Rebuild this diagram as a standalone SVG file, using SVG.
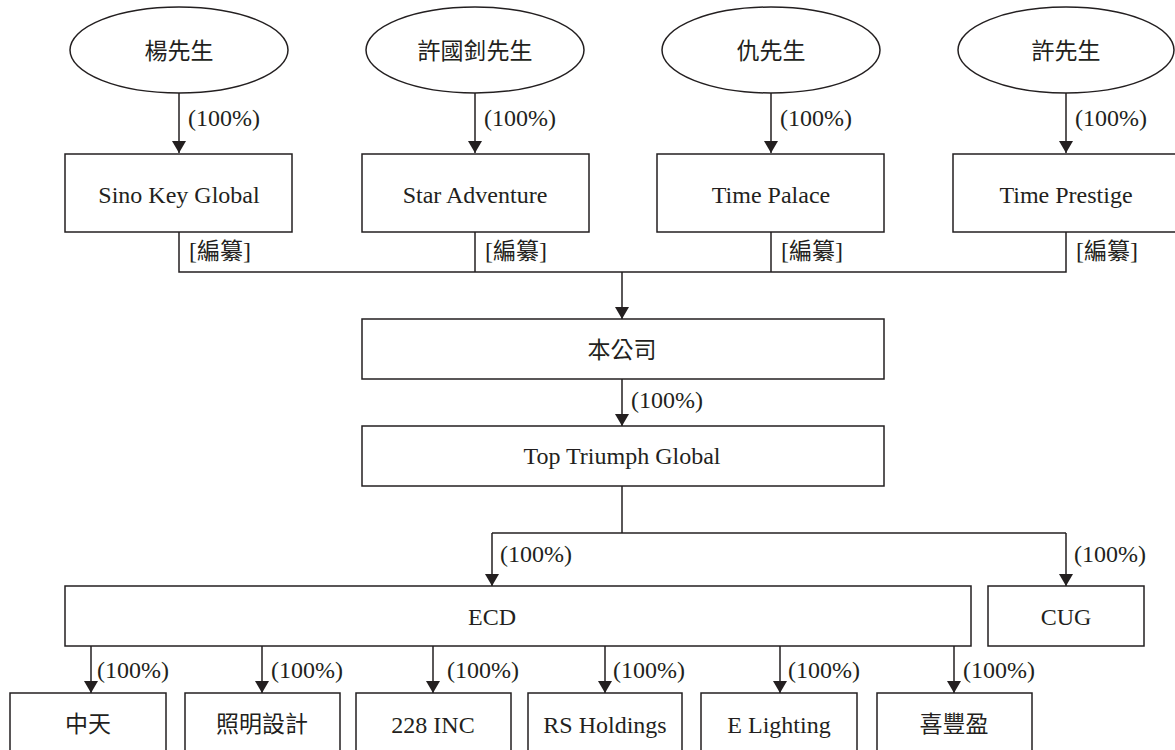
<svg xmlns="http://www.w3.org/2000/svg" width="1175" height="750" viewBox="0 0 1175 750">
<defs>
<style>
.bx{fill:#fff;stroke:#231f20;stroke-width:1.5}
.ln{fill:none;stroke:#231f20;stroke-width:1.5}
.t{font-family:"Liberation Serif","Noto Sans CJK TC",serif;font-size:24px;fill:#231f20}
.c{text-anchor:middle}
.cj{font-family:"Noto Sans CJK TC","Noto Sans CJK SC",sans-serif;font-size:23px;fill:#231f20;text-anchor:middle}
</style>
<marker id="ah" viewBox="0 0 12 14" markerWidth="12" markerHeight="14" markerUnits="userSpaceOnUse" refX="12" refY="7" orient="auto">
<path d="M0,0 L12,7 L0,14 Z" fill="#231f20"/>
</marker>
</defs>
<rect width="1175" height="750" fill="#fff"/>
<g id="connectors">
<line class="ln" x1="179" y1="93" x2="179" y2="153" marker-end="url(#ah)"/>
<line class="ln" x1="475" y1="93" x2="475" y2="153" marker-end="url(#ah)"/>
<line class="ln" x1="771" y1="93" x2="771" y2="153" marker-end="url(#ah)"/>
<line class="ln" x1="1066" y1="93" x2="1066" y2="153" marker-end="url(#ah)"/>
<polyline class="ln" points="179,232 179,272 1066,272 1066,232"/>
<line class="ln" x1="475" y1="232" x2="475" y2="272"/>
<line class="ln" x1="771" y1="232" x2="771" y2="272"/>
<line class="ln" x1="622" y1="272" x2="622" y2="319" marker-end="url(#ah)"/>
<line class="ln" x1="622" y1="379" x2="622" y2="426" marker-end="url(#ah)"/>
<polyline class="ln" points="622,486 622,533"/>
<line class="ln" x1="492" y1="533" x2="1066" y2="533"/>
<line class="ln" x1="492" y1="533" x2="492" y2="586" marker-end="url(#ah)"/>
<line class="ln" x1="1066" y1="533" x2="1066" y2="586" marker-end="url(#ah)"/>
<line class="ln" x1="91" y1="646" x2="91" y2="693" marker-end="url(#ah)"/>
<line class="ln" x1="262" y1="646" x2="262" y2="693" marker-end="url(#ah)"/>
<line class="ln" x1="433" y1="646" x2="433" y2="693" marker-end="url(#ah)"/>
<line class="ln" x1="605" y1="646" x2="605" y2="693" marker-end="url(#ah)"/>
<line class="ln" x1="780" y1="646" x2="780" y2="693" marker-end="url(#ah)"/>
<line class="ln" x1="954" y1="646" x2="954" y2="693" marker-end="url(#ah)"/>
<text class="t" x="188" y="126">(100%)</text>
<text class="t" x="484" y="126">(100%)</text>
<text class="t" x="780" y="126">(100%)</text>
<text class="t" x="1075" y="126">(100%)</text>
<text class="t" x="189" y="259">[<tspan font-family="Noto Sans CJK TC,sans-serif" font-size="23">編纂</tspan>]</text>
<text class="t" x="485" y="259">[<tspan font-family="Noto Sans CJK TC,sans-serif" font-size="23">編纂</tspan>]</text>
<text class="t" x="781" y="259">[<tspan font-family="Noto Sans CJK TC,sans-serif" font-size="23">編纂</tspan>]</text>
<text class="t" x="1076" y="259">[<tspan font-family="Noto Sans CJK TC,sans-serif" font-size="23">編纂</tspan>]</text>
<text class="t" x="631" y="408">(100%)</text>
<text class="t" x="500" y="562">(100%)</text>
<text class="t" x="1074" y="562">(100%)</text>
<text class="t" x="97" y="678">(100%)</text>
<text class="t" x="271" y="678">(100%)</text>
<text class="t" x="447" y="678">(100%)</text>
<text class="t" x="613" y="678">(100%)</text>
<text class="t" x="788" y="678">(100%)</text>
<text class="t" x="963" y="678">(100%)</text>
</g>
<g id="n-yang"><ellipse class="bx" cx="179" cy="50" rx="109" ry="43"/><text class="cj" x="179" y="59">楊先生</text></g>
<g id="n-hsuKC"><ellipse class="bx" cx="475" cy="50" rx="109" ry="43"/><text class="cj" x="475" y="59">許國釗先生</text></g>
<g id="n-kau"><ellipse class="bx" cx="771" cy="50" rx="109" ry="43"/><text class="cj" x="771" y="59">仇先生</text></g>
<g id="n-hsu"><ellipse class="bx" cx="1066" cy="50" rx="108" ry="43"/><text class="cj" x="1066" y="59">許先生</text></g>
<g id="n-sino"><rect class="bx" x="65" y="154" width="227" height="78"/><text class="t c" x="179" y="203">Sino Key Global</text></g>
<g id="n-star"><rect class="bx" x="362" y="154" width="227" height="78"/><text class="t c" x="475" y="203">Star Adventure</text></g>
<g id="n-palace"><rect class="bx" x="657" y="154" width="227" height="78"/><text class="t c" x="771" y="203">Time Palace</text></g>
<g id="n-prestige"><rect class="bx" x="953" y="154" width="227" height="78"/><text class="t c" x="1066" y="203">Time Prestige</text></g>
<g id="n-company"><rect class="bx" x="362" y="319" width="522" height="60"/><text class="cj" x="622" y="358">本公司</text></g>
<g id="n-ttg"><rect class="bx" x="362" y="426" width="522" height="60"/><text class="t c" x="622" y="464">Top Triumph Global</text></g>
<g id="n-ecd"><rect class="bx" x="65" y="586" width="906" height="60"/><text class="t c" x="492" y="625">ECD</text></g>
<g id="n-cug"><rect class="bx" x="988" y="586" width="156" height="60"/><text class="t c" x="1066" y="625">CUG</text></g>
<g id="n-zhongtian"><rect class="bx" x="10" y="693" width="156" height="70"/><text class="cj" x="88" y="732">中天</text></g>
<g id="n-lighting"><rect class="bx" x="185" y="693" width="155" height="70"/><text class="cj" x="262" y="732">照明設計</text></g>
<g id="n-228"><rect class="bx" x="356" y="693" width="155" height="70"/><text class="t c" x="433" y="733">228 INC</text></g>
<g id="n-rs"><rect class="bx" x="528" y="693" width="154" height="70"/><text class="t c" x="605" y="733">RS Holdings</text></g>
<g id="n-elighting"><rect class="bx" x="701" y="693" width="156" height="70"/><text class="t c" x="779" y="733">E Lighting</text></g>
<g id="n-xifengying"><rect class="bx" x="877" y="693" width="155" height="70"/><text class="cj" x="954" y="732">喜豐盈</text></g>
</svg>
